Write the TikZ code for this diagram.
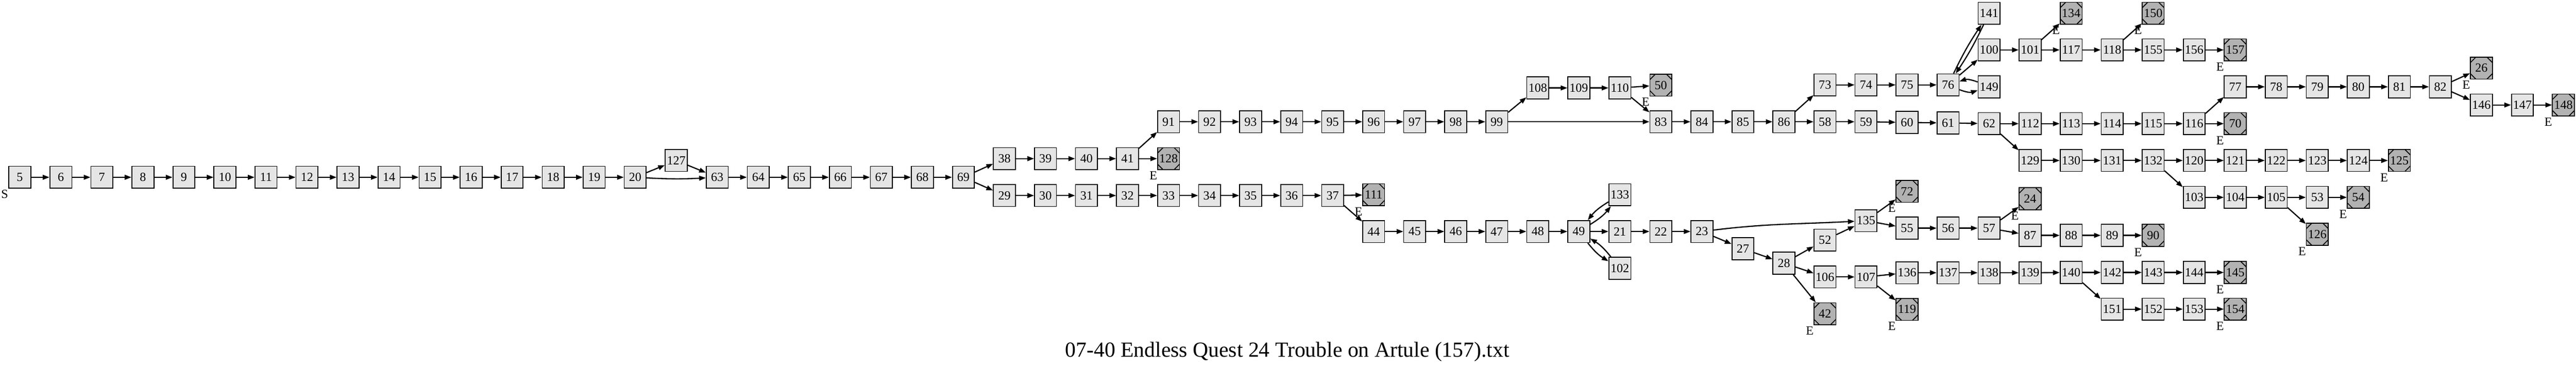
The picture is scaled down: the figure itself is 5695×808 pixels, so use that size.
\documentclass[tikz,border=0pt]{standalone}
\usepackage{fontspec}
\setmainfont{Liberation Serif}
\usetikzlibrary{arrows.meta}
\definecolor{pgfill}{gray}{0.9}
\definecolor{pgend}{gray}{0.7}
\begin{document}
\begin{tikzpicture}[x=0.01cm, y=0.01cm,
  pg/.style={draw, line width=0.55pt, fill=pgfill, minimum size=0.485cm, inner sep=0pt, font=\fontsize{7.8}{8}\selectfont},
  endpg/.style={pg, fill=pgend, path picture={
    \draw[line width=0.55pt] ([yshift=-0.12cm]path picture bounding box.north west) -- ([xshift=0.12cm]path picture bounding box.north west)
      ([xshift=-0.12cm]path picture bounding box.north east) -- ([yshift=-0.12cm]path picture bounding box.north east)
      ([yshift=0.12cm]path picture bounding box.south east) -- ([xshift=-0.12cm]path picture bounding box.south east)
      ([xshift=0.12cm]path picture bounding box.south west) -- ([yshift=0.12cm]path picture bounding box.south west);}},
  elab/.style={inner sep=0pt, font=\fontsize{7.8}{8}\selectfont},
  ed/.style={line width=0.75pt, -{Triangle[length=4.2pt,width=3pt]}}]
\useasboundingbox (0,0) rectangle (5695,-808);
\node[pg] (p5) at (43.8,-391.7) {5};
\node[elab] (s5) at (10.3,-429.2) {S};
\node[pg] (p6) at (134.5,-391.7) {6};
\node[pg] (p7) at (225.2,-391.7) {7};
\node[pg] (p8) at (315.9,-391.7) {8};
\node[pg] (p9) at (406.6,-391.7) {9};
\node[pg] (p10) at (497.3,-391.7) {10};
\node[pg] (p11) at (588.0,-391.7) {11};
\node[pg] (p12) at (678.7,-391.7) {12};
\node[pg] (p13) at (769.4,-391.7) {13};
\node[pg] (p14) at (860.1,-391.7) {14};
\node[pg] (p15) at (950.8,-391.7) {15};
\node[pg] (p16) at (1041.5,-391.7) {16};
\node[pg] (p17) at (1132.2,-391.7) {17};
\node[pg] (p18) at (1222.9,-391.7) {18};
\node[pg] (p19) at (1313.6,-391.7) {19};
\node[pg] (p20) at (1404.3,-391.7) {20};
\node[pg] (p127) at (1495.0,-354.6) {127};
\node[pg] (p63) at (1585.7,-391.7) {63};
\node[pg] (p64) at (1676.4,-391.7) {64};
\node[pg] (p65) at (1767.1,-391.7) {65};
\node[pg] (p66) at (1857.8,-391.7) {66};
\node[pg] (p67) at (1948.5,-391.7) {67};
\node[pg] (p68) at (2039.2,-391.7) {68};
\node[pg] (p69) at (2129.9,-391.7) {69};
\node[pg] (p38) at (2220.6,-350.5) {38};
\node[pg] (p29) at (2220.6,-432.0) {29};
\node[pg] (p39) at (2311.3,-350.5) {39};
\node[pg] (p30) at (2311.3,-432.0) {30};
\node[pg] (p40) at (2402.0,-350.5) {40};
\node[pg] (p31) at (2402.0,-432.0) {31};
\node[pg] (p41) at (2492.7,-350.5) {41};
\node[pg] (p32) at (2492.7,-432.0) {32};
\node[pg] (p91) at (2583.4,-269.0) {91};
\node[endpg] (p128) at (2583.4,-350.5) {128};
\node[elab] (e128) at (2549.9,-388.0) {E};
\node[pg] (p33) at (2583.4,-432.0) {33};
\node[pg] (p92) at (2674.1,-269.0) {92};
\node[pg] (p34) at (2674.1,-432.0) {34};
\node[pg] (p93) at (2764.8,-269.0) {93};
\node[pg] (p35) at (2764.8,-432.0) {35};
\node[pg] (p94) at (2855.5,-269.0) {94};
\node[pg] (p36) at (2855.5,-432.0) {36};
\node[pg] (p95) at (2946.2,-269.0) {95};
\node[pg] (p37) at (2946.2,-432.0) {37};
\node[pg] (p96) at (3036.9,-269.0) {96};
\node[endpg] (p111) at (3036.9,-430.4) {111};
\node[elab] (e111) at (3003.4,-467.9) {E};
\node[pg] (p44) at (3036.9,-511.5) {44};
\node[pg] (p97) at (3127.6,-269.0) {97};
\node[pg] (p45) at (3127.6,-511.5) {45};
\node[pg] (p98) at (3218.3,-269.0) {98};
\node[pg] (p46) at (3218.3,-511.5) {46};
\node[pg] (p99) at (3309.0,-269.0) {99};
\node[pg] (p47) at (3309.0,-511.5) {47};
\node[pg] (p108) at (3399.7,-194.3) {108};
\node[pg] (p48) at (3399.7,-511.5) {48};
\node[pg] (p109) at (3490.4,-194.3) {109};
\node[pg] (p49) at (3490.4,-511.5) {49};
\node[pg] (p110) at (3581.1,-194.3) {110};
\node[pg] (p133) at (3581.1,-430.4) {133};
\node[pg] (p21) at (3581.1,-511.5) {21};
\node[pg] (p102) at (3581.1,-592.8) {102};
\node[endpg] (p50) at (3671.8,-188.1) {50};
\node[elab] (e50) at (3638.3,-225.6) {E};
\node[pg] (p83) at (3671.8,-269.0) {83};
\node[pg] (p22) at (3671.8,-511.5) {22};
\node[pg] (p84) at (3762.5,-269.0) {84};
\node[pg] (p23) at (3762.5,-511.5) {23};
\node[pg] (p85) at (3853.2,-269.0) {85};
\node[pg] (p27) at (3853.2,-549.5) {27};
\node[pg] (p86) at (3943.9,-269.0) {86};
\node[pg] (p28) at (3943.9,-581.4) {28};
\node[pg] (p73) at (4034.6,-187.6) {73};
\node[pg] (p58) at (4034.6,-269.0) {58};
\node[pg] (p52) at (4034.6,-530.4) {52};
\node[pg] (p106) at (4034.6,-611.9) {106};
\node[endpg] (p42) at (4034.6,-693.3) {42};
\node[elab] (e42) at (4001.1,-730.8) {E};
\node[pg] (p74) at (4125.3,-187.6) {74};
\node[pg] (p59) at (4125.3,-269.0) {59};
\node[pg] (p135) at (4125.3,-487.6) {135};
\node[pg] (p107) at (4125.3,-611.9) {107};
\node[pg] (p75) at (4216.0,-187.6) {75};
\node[pg] (p60) at (4216.0,-270.6) {60};
\node[endpg] (p72) at (4216.0,-422.7) {72};
\node[elab] (e72) at (4182.5,-460.2) {E};
\node[pg] (p55) at (4216.0,-504.1) {55};
\node[pg] (p136) at (4216.0,-602.6) {136};
\node[endpg] (p119) at (4216.0,-683.5) {119};
\node[elab] (e119) at (4182.5,-721.0) {E};
\node[pg] (p76) at (4306.7,-187.6) {76};
\node[pg] (p61) at (4306.7,-271.6) {61};
\node[pg] (p56) at (4306.7,-504.1) {56};
\node[pg] (p137) at (4306.7,-602.6) {137};
\node[pg] (p141) at (4397.4,-29.4) {141};
\node[pg] (p100) at (4397.4,-110.3) {100};
\node[pg] (p149) at (4397.4,-191.8) {149};
\node[pg] (p62) at (4397.4,-273.2) {62};
\node[pg] (p57) at (4397.4,-504.1) {57};
\node[pg] (p138) at (4397.4,-602.6) {138};
\node[pg] (p101) at (4488.1,-110.3) {101};
\node[pg] (p112) at (4488.1,-273.2) {112};
\node[pg] (p129) at (4488.1,-354.6) {129};
\node[endpg] (p24) at (4488.1,-439.2) {24};
\node[elab] (e24) at (4454.6,-476.7) {E};
\node[pg] (p87) at (4488.1,-520.1) {87};
\node[pg] (p139) at (4488.1,-602.6) {139};
\node[endpg] (p134) at (4578.8,-29.4) {134};
\node[elab] (e134) at (4545.3,-66.9) {E};
\node[pg] (p117) at (4578.8,-110.3) {117};
\node[pg] (p113) at (4578.8,-273.2) {113};
\node[pg] (p130) at (4578.8,-354.6) {130};
\node[pg] (p88) at (4578.8,-520.1) {88};
\node[pg] (p140) at (4578.8,-602.0) {140};
\node[pg] (p118) at (4669.5,-110.3) {118};
\node[pg] (p114) at (4669.5,-273.2) {114};
\node[pg] (p131) at (4669.5,-354.6) {131};
\node[pg] (p89) at (4669.5,-520.1) {89};
\node[pg] (p142) at (4669.5,-602.0) {142};
\node[pg] (p151) at (4669.5,-683.0) {151};
\node[endpg] (p150) at (4760.2,-29.4) {150};
\node[elab] (e150) at (4726.7,-66.9) {E};
\node[pg] (p155) at (4760.2,-110.3) {155};
\node[pg] (p115) at (4760.2,-273.2) {115};
\node[pg] (p132) at (4760.2,-354.6) {132};
\node[endpg] (p90) at (4760.2,-520.1) {90};
\node[elab] (e90) at (4726.7,-557.6) {E};
\node[pg] (p143) at (4760.2,-602.0) {143};
\node[pg] (p152) at (4760.2,-683.0) {152};
\node[pg] (p156) at (4850.9,-110.3) {156};
\node[pg] (p116) at (4850.9,-273.2) {116};
\node[pg] (p120) at (4850.9,-354.6) {120};
\node[pg] (p103) at (4850.9,-436.1) {103};
\node[pg] (p144) at (4850.9,-602.0) {144};
\node[pg] (p153) at (4850.9,-683.0) {153};
\node[endpg] (p157) at (4941.6,-110.3) {157};
\node[elab] (e157) at (4908.1,-147.8) {E};
\node[pg] (p77) at (4941.6,-191.8) {77};
\node[endpg] (p70) at (4941.6,-273.2) {70};
\node[elab] (e70) at (4908.1,-310.7) {E};
\node[pg] (p121) at (4941.6,-354.6) {121};
\node[pg] (p104) at (4941.6,-436.1) {104};
\node[endpg] (p145) at (4941.6,-602.0) {145};
\node[elab] (e145) at (4908.1,-639.5) {E};
\node[endpg] (p154) at (4941.6,-683.0) {154};
\node[elab] (e154) at (4908.1,-720.5) {E};
\node[pg] (p78) at (5032.3,-191.8) {78};
\node[pg] (p122) at (5032.3,-354.6) {122};
\node[pg] (p105) at (5032.3,-436.1) {105};
\node[pg] (p79) at (5123.0,-191.8) {79};
\node[pg] (p123) at (5123.0,-354.6) {123};
\node[pg] (p53) at (5123.0,-436.1) {53};
\node[endpg] (p126) at (5123.0,-517.5) {126};
\node[elab] (e126) at (5089.5,-555.0) {E};
\node[pg] (p80) at (5213.7,-191.8) {80};
\node[pg] (p124) at (5213.7,-354.6) {124};
\node[endpg] (p54) at (5213.7,-436.1) {54};
\node[elab] (e54) at (5180.2,-473.6) {E};
\node[pg] (p81) at (5304.4,-191.8) {81};
\node[endpg] (p125) at (5304.4,-354.6) {125};
\node[elab] (e125) at (5270.9,-392.1) {E};
\node[pg] (p82) at (5395.1,-191.8) {82};
\node[endpg] (p26) at (5485.8,-150.5) {26};
\node[elab] (e26) at (5452.3,-188.0) {E};
\node[pg] (p146) at (5485.8,-232.0) {146};
\node[pg] (p147) at (5576.5,-232.0) {147};
\node[endpg] (p148) at (5667.2,-232.0) {148};
\node[elab] (e148) at (5633.7,-269.5) {E};
\node[anchor=base, inner sep=0pt, font=\fontsize{13.5}{14}\selectfont] (title) at (2846,-788.6) {07-40 Endless Quest 24 Trouble on Artule (157).txt};
\draw[ed] (p5) -- (p6);
\draw[ed] (p6) -- (p7);
\draw[ed] (p7) -- (p8);
\draw[ed] (p8) -- (p9);
\draw[ed] (p9) -- (p10);
\draw[ed] (p10) -- (p11);
\draw[ed] (p11) -- (p12);
\draw[ed] (p12) -- (p13);
\draw[ed] (p13) -- (p14);
\draw[ed] (p14) -- (p15);
\draw[ed] (p15) -- (p16);
\draw[ed] (p16) -- (p17);
\draw[ed] (p17) -- (p18);
\draw[ed] (p18) -- (p19);
\draw[ed] (p19) -- (p20);
\draw[ed] (p20) -- (p127);
\draw[ed] (p20) to[bend right=3] (p63);
\draw[ed] (p127) -- (p63);
\draw[ed] (p63) -- (p64);
\draw[ed] (p64) -- (p65);
\draw[ed] (p65) -- (p66);
\draw[ed] (p66) -- (p67);
\draw[ed] (p67) -- (p68);
\draw[ed] (p68) -- (p69);
\draw[ed] (p69) -- (p38);
\draw[ed] (p69) -- (p29);
\draw[ed] (p38) -- (p39);
\draw[ed] (p39) -- (p40);
\draw[ed] (p40) -- (p41);
\draw[ed] (p41) -- (p91);
\draw[ed] (p41) -- (p128);
\draw[ed] (p29) -- (p30);
\draw[ed] (p30) -- (p31);
\draw[ed] (p31) -- (p32);
\draw[ed] (p32) -- (p33);
\draw[ed] (p33) -- (p34);
\draw[ed] (p34) -- (p35);
\draw[ed] (p35) -- (p36);
\draw[ed] (p36) -- (p37);
\draw[ed] (p37) -- (p111);
\draw[ed] (p37) -- (p44);
\draw[ed] (p91) -- (p92);
\draw[ed] (p92) -- (p93);
\draw[ed] (p93) -- (p94);
\draw[ed] (p94) -- (p95);
\draw[ed] (p95) -- (p96);
\draw[ed] (p96) -- (p97);
\draw[ed] (p97) -- (p98);
\draw[ed] (p98) -- (p99);
\draw[ed] (p99) -- (p108);
\draw[ed] (p99) -- (p83);
\draw[ed] (p108) -- (p109);
\draw[ed] (p109) -- (p110);
\draw[ed] (p110) -- (p50);
\draw[ed] (p110) -- (p83);
\draw[ed] (p83) -- (p84);
\draw[ed] (p84) -- (p85);
\draw[ed] (p85) -- (p86);
\draw[ed] (p86) -- (p73);
\draw[ed] (p86) -- (p58);
\draw[ed] (p73) -- (p74);
\draw[ed] (p74) -- (p75);
\draw[ed] (p75) -- (p76);
\draw[ed] (p76) to[bend left=4] (p141);
\draw[ed] (p141) to[bend left=4] (p76);
\draw[ed] (p76) -- (p100);
\draw[ed] (p76) to[bend right=20] (p149);
\draw[ed] (p149) to[bend right=20] (p76);
\draw[ed] (p100) -- (p101);
\draw[ed] (p101) -- (p134);
\draw[ed] (p101) -- (p117);
\draw[ed] (p117) -- (p118);
\draw[ed] (p118) -- (p150);
\draw[ed] (p118) -- (p155);
\draw[ed] (p155) -- (p156);
\draw[ed] (p156) -- (p157);
\draw[ed] (p58) -- (p59);
\draw[ed] (p59) -- (p60);
\draw[ed] (p60) -- (p61);
\draw[ed] (p61) -- (p62);
\draw[ed] (p62) -- (p112);
\draw[ed] (p62) -- (p129);
\draw[ed] (p112) -- (p113);
\draw[ed] (p113) -- (p114);
\draw[ed] (p114) -- (p115);
\draw[ed] (p115) -- (p116);
\draw[ed] (p116) -- (p77);
\draw[ed] (p116) -- (p70);
\draw[ed] (p77) -- (p78);
\draw[ed] (p78) -- (p79);
\draw[ed] (p79) -- (p80);
\draw[ed] (p80) -- (p81);
\draw[ed] (p81) -- (p82);
\draw[ed] (p82) -- (p26);
\draw[ed] (p82) -- (p146);
\draw[ed] (p146) -- (p147);
\draw[ed] (p147) -- (p148);
\draw[ed] (p129) -- (p130);
\draw[ed] (p130) -- (p131);
\draw[ed] (p131) -- (p132);
\draw[ed] (p132) -- (p120);
\draw[ed] (p132) -- (p103);
\draw[ed] (p120) -- (p121);
\draw[ed] (p121) -- (p122);
\draw[ed] (p122) -- (p123);
\draw[ed] (p123) -- (p124);
\draw[ed] (p124) -- (p125);
\draw[ed] (p103) -- (p104);
\draw[ed] (p104) -- (p105);
\draw[ed] (p105) -- (p53);
\draw[ed] (p105) -- (p126);
\draw[ed] (p53) -- (p54);
\draw[ed] (p44) -- (p45);
\draw[ed] (p45) -- (p46);
\draw[ed] (p46) -- (p47);
\draw[ed] (p47) -- (p48);
\draw[ed] (p48) -- (p49);
\draw[ed] (p49) to[bend right=10] (p133);
\draw[ed] (p133) to[bend right=10] (p49);
\draw[ed] (p49) -- (p21);
\draw[ed] (p49) to[bend right=10] (p102);
\draw[ed] (p102) to[bend right=10] (p49);
\draw[ed] (p21) -- (p22);
\draw[ed] (p22) -- (p23);
\draw[ed] (p23) to[out=7, in=183] (p135);
\draw[ed] (p23) -- (p27);
\draw[ed] (p27) -- (p28);
\draw[ed] (p28) -- (p52);
\draw[ed] (p28) -- (p106);
\draw[ed] (p28) -- (p42);
\draw[ed] (p52) -- (p135);
\draw[ed] (p135) -- (p72);
\draw[ed] (p135) -- (p55);
\draw[ed] (p55) -- (p56);
\draw[ed] (p56) -- (p57);
\draw[ed] (p57) -- (p24);
\draw[ed] (p57) -- (p87);
\draw[ed] (p87) -- (p88);
\draw[ed] (p88) -- (p89);
\draw[ed] (p89) -- (p90);
\draw[ed] (p106) -- (p107);
\draw[ed] (p107) -- (p136);
\draw[ed] (p107) -- (p119);
\draw[ed] (p136) -- (p137);
\draw[ed] (p137) -- (p138);
\draw[ed] (p138) -- (p139);
\draw[ed] (p139) -- (p140);
\draw[ed] (p140) -- (p142);
\draw[ed] (p140) -- (p151);
\draw[ed] (p142) -- (p143);
\draw[ed] (p143) -- (p144);
\draw[ed] (p144) -- (p145);
\draw[ed] (p151) -- (p152);
\draw[ed] (p152) -- (p153);
\draw[ed] (p153) -- (p154);
\end{tikzpicture}
\end{document}
